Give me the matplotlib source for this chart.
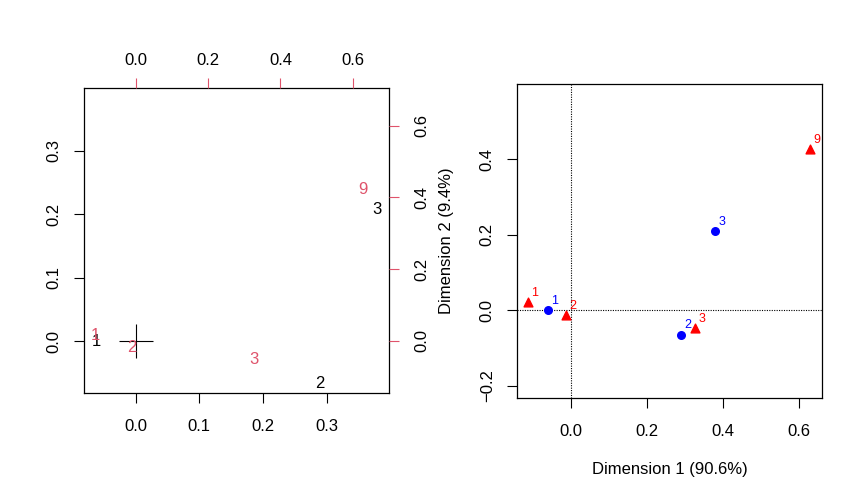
import matplotlib
matplotlib.use("Agg")
from matplotlib import pyplot as plt

plt.rcParams['font.family'] = ['Liberation Sans', 'DejaVu Sans']
plt.rcParams['font.size'] = 12

# row points (blue / black) and column points (red)
row_labels = ['1', '2', '3']
row_x = [-0.061, 0.289, 0.379]
row_y = [0.002, -0.064, 0.211]

col_labels = ['1', '2', '3', '9']
col_x = [-0.112, -0.012, 0.327, 0.629]
col_y = [0.021, -0.012, -0.046, 0.427]

pct1 = 90.6
pct2 = 9.4

R2 = '#DF536B'
W, H = 865, 503

def rect(l, t, r, b):
    return [l / W, (H - b) / H, (r - l) / W, (b - t) / H]

def rot_ylabels(ax):
    for t in ax.get_yticklabels():
        t.set_rotation(90)
        t.set_va('center')

fig = plt.figure(figsize=(W / 100, H / 100), dpi=100)

# ---- left: biplot ----
ax1 = fig.add_axes(rect(84, 88, 389, 393))
ax1.set_xlim(-0.081, 0.398)
ax1.set_ylim(-0.082, 0.399)
ax1.set_xticks([0.0, 0.1, 0.2, 0.3])
ax1.set_yticks([0.0, 0.1, 0.2, 0.3])
ax1.tick_params(length=7.5, width=0.8, direction='out')
ax1.tick_params(axis='x', pad=11)
ax1.tick_params(axis='y', pad=8.5)
rot_ylabels(ax1)
for s in ax1.spines.values():
    s.set_linewidth(0.9)
for lab, x, y in zip(row_labels, row_x, row_y):
    ax1.annotate(lab, (x, y), xytext=(0, -1.5), textcoords='offset points',
                 ha='center', va='center', color='black', fontsize=12)
ax1.plot(0, 0, marker='+', ms=25, mew=0.8, color='black')

ax1b = fig.add_axes(rect(84, 88, 389, 393), frameon=False)
ax1b.set_xlim(-0.143, 0.700)
ax1b.set_ylim(-0.145, 0.705)
ax1b.xaxis.tick_top()
ax1b.yaxis.tick_right()
ax1b.set_xticks([0.0, 0.2, 0.4, 0.6])
ax1b.set_yticks([0.0, 0.2, 0.4, 0.6])
ax1b.tick_params(length=7.5, width=0.8, color=R2, direction='out')
ax1b.tick_params(axis='x', pad=7)
ax1b.tick_params(axis='y', pad=11)
rot_ylabels(ax1b)
for lab, x, y in zip(col_labels, col_x, col_y):
    ax1b.annotate(lab, (x, y), xytext=(0, -1.5), textcoords='offset points',
                  ha='center', va='center', color=R2, fontsize=12)

# ---- right: CA map ----
ax2 = fig.add_axes(rect(517, 84, 822, 398))
ax2.set_xlim(-0.142, 0.66)
ax2.set_ylim(-0.232, 0.599)
ax2.axvline(0, color='black', lw=0.8, ls=(0, (1, 1.2)))
ax2.axhline(0, color='black', lw=0.8, ls=(0, (1, 1.2)))
ax2.scatter(row_x, row_y, marker='o', s=30, color='blue', zorder=3)
ax2.scatter(col_x, col_y, marker='^', s=40, color='red', zorder=3)
for lab, x, y in zip(row_labels, row_x, row_y):
    ax2.annotate(lab, (x, y), xytext=(4.7, 6.5), textcoords='offset points',
                 ha='center', va='center', color='blue', fontsize=9)
for lab, x, y in zip(col_labels, col_x, col_y):
    ax2.annotate(lab, (x, y), xytext=(4.7, 6.5), textcoords='offset points',
                 ha='center', va='center', color='red', fontsize=9)
ax2.set_xticks([0.0, 0.2, 0.4, 0.6])
ax2.set_yticks([-0.2, 0.0, 0.2, 0.4])
ax2.tick_params(length=7.5, width=0.8, direction='out')
ax2.tick_params(axis='x', pad=11)
ax2.tick_params(axis='y', pad=8.5)
rot_ylabels(ax2)
for s in ax2.spines.values():
    s.set_linewidth(0.9)
ax2.set_xlabel('Dimension 1 (%.1f%%)' % pct1, labelpad=16.5)
ax2.set_ylabel('Dimension 2 (%.1f%%)' % pct2, labelpad=18.5)

fig.savefig('out.png', dpi=100)
